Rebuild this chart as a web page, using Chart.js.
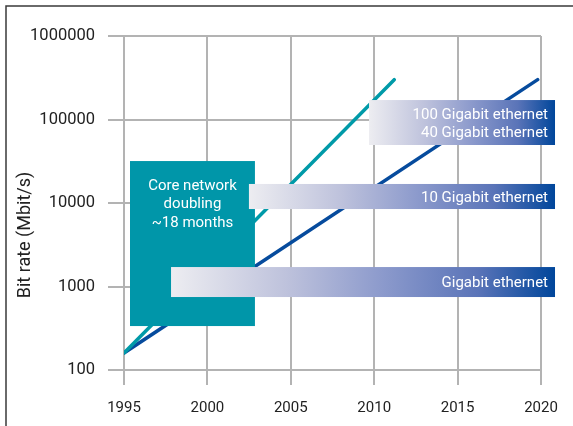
<!DOCTYPE html>
<html>
<head>
<meta charset="utf-8">
<script src="https://cdn.jsdelivr.net/npm/chart.js@4"></script>
<style>
  html, body { margin: 0; padding: 0; background: #fff; }
  canvas { display: block; }
</style>
</head>
<body>
<canvas id="myChart" width="573" height="426"></canvas>
<script>
// tick labels
const yearTicks = [1995, 2000, 2005, 2010, 2015, 2020]
const rateTicks = [100, 1000, 10000, 100000, 1000000]

// series
const coreYears = [1995, 2011.2]
const coreRate = [160, 300000]
const ethYears = [1995, 2019.8]
const ethRate = [160, 300000]

// annotation boxes, in data units (year / Mbit/s)
const coreBox = { x: [1995.36, 2002.85], y: [336, 31800], lines: ['Core network', 'doubling', '~18 months'] }
const ethBoxes = [
  { x: [2009.69, 2020.84], y: [49500, 171000], lines: ['100 Gigabit ethernet', '40 Gigabit ethernet'] },
  { x: [2002.49, 2020.84], y: [8470, 16900], lines: ['10 Gigabit ethernet'] },
  { x: [1997.82, 2020.84], y: [748, 1710], lines: ['Gigabit ethernet'] },
]

const FONT = 'Roboto'
const textColor = '#222'

const toPoints = (xs, ys) => xs.map((x, i) => ({ x, y: ys[i] }))

const framePlugin = {
  id: 'frame',
  beforeDraw(chart) {
    const c = chart.ctx
    c.save()
    c.fillStyle = '#fff'
    c.fillRect(0, 0, chart.width, chart.height)
    c.strokeStyle = '#3a3a3a'
    c.lineWidth = 1.5
    c.beginPath()
    c.moveTo(6, chart.height)
    c.lineTo(6, 6)
    c.lineTo(chart.width, 6)
    c.stroke()
    // y axis title
    c.translate(25, 235)
    c.rotate(-Math.PI / 2)
    c.fillStyle = textColor
    c.font = `18px ${FONT}`
    c.textAlign = 'center'
    c.textBaseline = 'middle'
    c.fillText('Bit rate (Mbit/s)', 0, 0)
    c.restore()
  },
}

const boxPlugin = {
  id: 'boxes',
  afterDatasetsDraw(chart) {
    const c = chart.ctx
    const sx = chart.scales.x
    const sy = chart.scales.y
    const rect = (b) => {
      const x0 = sx.getPixelForValue(b.x[0])
      const x1 = sx.getPixelForValue(b.x[1])
      const y0 = sy.getPixelForValue(b.y[1])
      const y1 = sy.getPixelForValue(b.y[0])
      return { x0, x1, y0, y1 }
    }
    c.save()
    c.font = `15px ${FONT}`
    c.fillStyle = '#fff'
    c.textBaseline = 'middle'

    // core network box
    let r = rect(coreBox)
    c.fillStyle = '#0096a9'
    c.fillRect(r.x0, r.y0, r.x1 - r.x0, r.y1 - r.y0)
    c.fillStyle = '#fff'
    c.textAlign = 'center'
    coreBox.lines.forEach((t, i) => {
      c.fillText(t, (r.x0 + r.x1) / 2, r.y0 + 25 + i * 18.5)
    })

    // ethernet bands
    ethBoxes.forEach((b) => {
      r = rect(b)
      const g = c.createLinearGradient(r.x0, 0, r.x1, 0)
      g.addColorStop(0, '#ededf1')
      g.addColorStop(0.3, '#bec2dc')
      g.addColorStop(0.55, '#8c9acc')
      g.addColorStop(0.8, '#5a74b8')
      g.addColorStop(1, '#00469b')
      c.fillStyle = g
      c.fillRect(r.x0, r.y0, r.x1 - r.x0, r.y1 - r.y0)
      c.fillStyle = '#fff'
      c.textAlign = 'right'
      const mid = (r.y0 + r.y1) / 2 + 1.5
      const n = b.lines.length
      b.lines.forEach((t, i) => {
        c.fillText(t, r.x1 - 7, mid + (i - (n - 1) / 2) * 18.5)
      })
    })
    c.restore()
  },
}

new Chart(document.getElementById('myChart'), {
  type: 'line',
  data: {
    datasets: [
      {
        data: toPoints(coreYears, coreRate),
        borderColor: '#009aa8',
        borderWidth: 3.5,
        borderCapStyle: 'round',
        pointRadius: 0,
      },
      {
        data: toPoints(ethYears, ethRate),
        borderColor: '#064b9d',
        borderWidth: 3.5,
        borderCapStyle: 'round',
        pointRadius: 0,
      },
    ],
  },
  options: {
    responsive: false,
    animation: false,
    devicePixelRatio: 1,
    layout: { padding: { left: 0, top: 36, right: 32, bottom: 0 } },
    plugins: { legend: { display: false }, tooltip: { enabled: false } },
    scales: {
      x: {
        type: 'linear',
        min: 1995,
        max: 2020,
        afterBuildTicks: (s) => { s.ticks = yearTicks.map((v) => ({ value: v })) },
        afterFit: (s) => { s.height = 56 },
        ticks: {
          callback: (v) => String(v),
          font: { family: FONT, size: 15 },
          color: textColor,
          padding: 14,
          maxRotation: 0,
        },
        grid: { color: '#b3b3b3', lineWidth: 2, tickLength: 15 },
        border: { display: false },
      },
      y: {
        type: 'logarithmic',
        min: 100,
        max: 1000000,
        afterBuildTicks: (s) => { s.ticks = rateTicks.map((v) => ({ value: v })) },
        afterFit: (s) => { s.width = 124 },
        ticks: {
          callback: (v) => String(v),
          font: { family: FONT, size: 16.5 },
          color: textColor,
          padding: 13,
        },
        grid: { color: '#b3b3b3', lineWidth: 2, tickLength: 16 },
        border: { display: false },
      },
    },
  },
  plugins: [framePlugin, boxPlugin],
})
</script>
</body>
</html>
